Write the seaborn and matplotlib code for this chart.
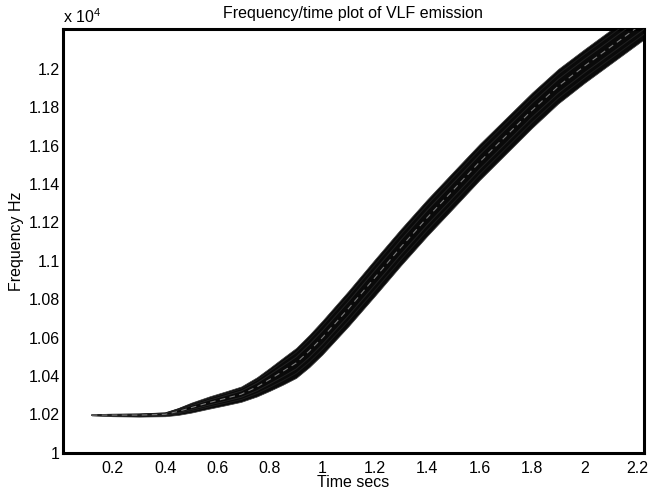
import numpy as np
import pandas as pd
import matplotlib
matplotlib.use("Agg")
import matplotlib.pyplot as plt
import seaborn as sns

# ---------------------------------------
# Data
# ---------------------------------------

time_s = [0.12, 0.20, 0.30, 0.40, 0.45, 0.50, 0.57, 0.63, 0.69, 0.75,
          0.80, 0.85, 0.90, 0.95, 1.00, 1.10, 1.20, 1.30, 1.40, 1.50,
          1.60, 1.70, 1.80, 1.90, 2.00, 2.10, 2.20, 2.26]

freq_hz = [10196, 10196, 10196, 10200, 10215, 10235, 10262, 10283, 10305, 10343,
           10383, 10425, 10468, 10530, 10600, 10752, 10912, 11072, 11225, 11370,
           11515, 11650, 11785, 11910, 12015, 12115, 12215, 12275]

# vertical half-thickness of the contour band (Hz)
half_band = [2, 6, 8, 10, 18, 26, 32, 36, 40, 50,
             60, 70, 78, 84, 88, 92, 95, 95, 95, 95,
             94, 93, 92, 90, 88, 88, 88, 88]

x_ticks = [0.2, 0.4, 0.6, 0.8, 1.0, 1.2, 1.4, 1.6, 1.8, 2.0, 2.2]
x_labels = ["0.2", "0.4", "0.6", "0.8", "1", "1.2", "1.4", "1.6", "1.8", "2", "2.2"]

y_ticks = [10000, 10200, 10400, 10600, 10800, 11000, 11200, 11400, 11600, 11800, 12000]
y_labels = ["1", "1.02", "1.04", "1.06", "1.08", "1.1", "1.12", "1.14", "1.16", "1.18", "1.2"]

df = pd.DataFrame({"time": time_s, "freq": freq_hz, "half": half_band})
df["lower"] = df["freq"] - df["half"]
df["upper"] = df["freq"] + df["half"]

# ---------------------------------------
# Style
# ---------------------------------------

sns.set_style("white")
plt.rcParams["font.family"] = ["Liberation Sans", "DejaVu Sans"]
plt.rcParams["mathtext.default"] = "regular"
plt.rcParams["text.color"] = "black"
plt.rcParams["axes.labelcolor"] = "black"

fs = 11.5

fig = plt.figure(figsize=(6.51, 4.94), dpi=100)
ax = fig.add_axes([0.0963, 0.0836, 0.8929, 0.8577])

# ---------------------------------------
# Contour band
# ---------------------------------------

ax.fill_between(df["time"], df["lower"], df["upper"], color="#0a0a0a", lw=0.5,
                edgecolor="#3a3a3a", zorder=2)

# faint inner contour texture
for k, col in [(0.7, "#1c1c1c"), (0.4, "#222222")]:
    for s in (-1, 1):
        sns.lineplot(x=df["time"], y=df["freq"] + s * k * df["half"], ax=ax,
                     color=col, lw=0.7, sort=False, zorder=3)

sns.lineplot(data=df, x="time", y="freq", ax=ax, color="#7c7c7c", lw=0.8,
             dashes=(5, 4), sort=False, zorder=4)

# ---------------------------------------
# Axes
# ---------------------------------------

ax.set_xlim(0.009, 2.227)
ax.set_ylim(10000, 12208)

ax.set_xticks(x_ticks)
ax.set_xticklabels(x_labels)
ax.set_yticks(y_ticks)
ax.set_yticklabels(y_labels)

ax.tick_params(axis="both", length=0, labelsize=fs, colors="black")
ax.tick_params(axis="x", pad=6)
ax.tick_params(axis="y", pad=2)

for sp in ax.spines.values():
    sp.set_visible(True)
    sp.set_color("black")
    sp.set_linewidth(2.2)

ax.set_xlabel("Time secs", fontsize=fs, labelpad=-1, color="black")
ax.set_ylabel("Frequency Hz", fontsize=fs, labelpad=3, color="black")
ax.set_title("Frequency/time plot of VLF emission", fontsize=fs, pad=8,
             color="black")

ax.text(0.0, 1.008, r"x 10$^{4}$", transform=ax.transAxes, fontsize=fs,
        ha="left", va="bottom", color="black")

fig.savefig("out.png", dpi=100)
plt.close(fig)
